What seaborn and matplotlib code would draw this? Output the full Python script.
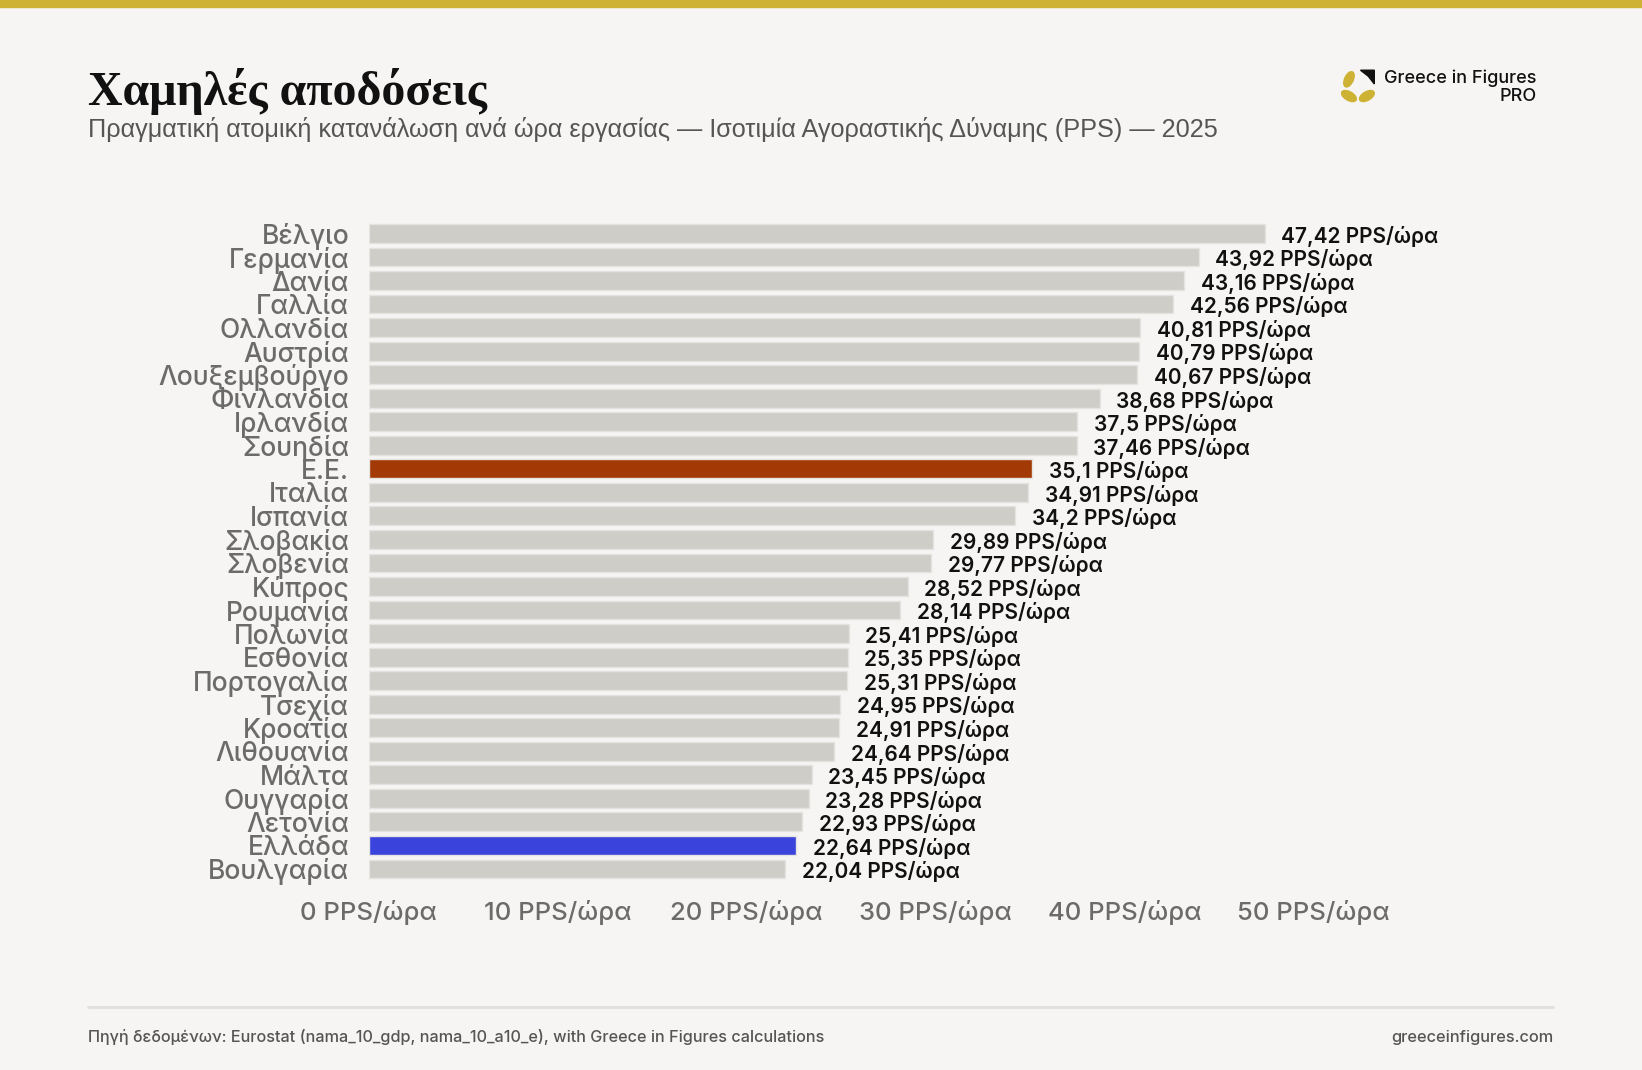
import numpy as np
import pandas as pd
import matplotlib
matplotlib.use("Agg")
import matplotlib.pyplot as plt
import seaborn as sns
from matplotlib.patches import Ellipse, Polygon

# Daten: Tatsächlicher Individualverbrauch pro Arbeitsstunde (PPS) 2025
countries = ["Βέλγιο", "Γερμανία", "Δανία", "Γαλλία", "Ολλανδία", "Αυστρία",
             "Λουξεμβούργο", "Φινλανδία", "Ιρλανδία", "Σουηδία", "Ε.Ε.", "Ιταλία",
             "Ισπανία", "Σλοβακία", "Σλοβενία", "Κύπρος", "Ρουμανία", "Πολωνία",
             "Εσθονία", "Πορτογαλία", "Τσεχία", "Κροατία", "Λιθουανία", "Μάλτα",
             "Ουγγαρία", "Λετονία", "Ελλάδα", "Βουλγαρία"]
values = [47.42, 43.92, 43.16, 42.56, 40.81, 40.79, 40.67, 38.68, 37.5, 37.46,
          35.1, 34.91, 34.2, 29.89, 29.77, 28.52, 28.14, 25.41, 25.35, 25.31,
          24.95, 24.91, 24.64, 23.45, 23.28, 22.93, 22.64, 22.04]
x_ticks = [0, 10, 20, 30, 40, 50]

BG = "#F6F5F3"
GREY = "#CFCDC8"
EU = "#A33A06"
GR = "#3A44DD"
GOLD = "#CDB234"

palette = {c: GREY for c in countries}
palette["Ε.Ε."] = EU
palette["Ελλάδα"] = GR

df = pd.DataFrame({"country": countries, "value": values})

sns.set_theme(style="white")
plt.rcParams["font.family"] = ["Inter", "DejaVu Sans"]

fig = plt.figure(figsize=(16.42, 10.70), dpi=100, facecolor=BG)
ax = fig.add_axes([0.2245, 0.1769, 0.633, 0.6159])
ax.set_facecolor(BG)

sns.barplot(data=df, x="value", y="country", hue="country", palette=palette,
            legend=False, width=0.8, saturation=1, edgecolor="#E4E3DF",
            linewidth=1, ax=ax)

def fmt(v):
    s = f"{v:.2f}".rstrip("0").rstrip(".")
    return s.replace(".", ",") + " PPS/ώρα"

for cont in ax.containers:
    lbls = ax.bar_label(cont, labels=[fmt(b.get_width()) for b in cont], padding=12,
                        fontsize=15, fontweight="semibold", color="#111111")
    for t in lbls:
        t.xyann = (t.xyann[0], t.xyann[1] - 2)

ax.set_xlim(0, 55)
ax.set_ylim(len(countries) - 0.5, -0.5)
ax.set_xticks(x_ticks)
ax.set_xticklabels([f"{t} PPS/ώρα" for t in x_ticks])
ax.set_xlabel("")
ax.set_ylabel("")
ax.tick_params(axis="x", length=0, pad=14, labelsize=18.5, labelcolor="#6B6B6B")
ax.tick_params(axis="y", length=0, pad=14, labelsize=19, labelcolor="#6B6B6B")
for lab in ax.get_xticklabels() + ax.get_yticklabels():
    lab.set_fontweight("medium")
for s in ax.spines.values():
    s.set_visible(False)
ax.grid(False)

# obere Goldleiste
fig.patches.append(plt.Rectangle((0, 0.993), 1, 0.007, transform=fig.transFigure,
                                 color=GOLD, zorder=5))

# Titel und Untertitel
fig.text(0.0536, 0.902, "Χαμηλές αποδόσεις", fontsize=34.5, fontweight="bold",
         family=["Liberation Serif", "DejaVu Serif"], color="#111111", va="baseline")
fig.text(0.0536, 0.872, "Πραγματική ατομική κατανάλωση ανά ώρα εργασίας — Ισοτιμία "
         "Αγοραστικής Δύναμης (PPS) — 2025", fontsize=18.2,
         family=["Liberation Sans", "DejaVu Sans"], color="#555555", va="baseline")

# Logo
lax = fig.add_axes([0.8165, 0.903, 0.021, 0.0322])
lax.set_xlim(-1, 1)
lax.set_ylim(-1, 1)
lax.axis("off")
lax.add_patch(Ellipse((-0.52, 0.42), 0.95, 0.5, angle=65, color=GOLD))
lax.add_patch(Ellipse((-0.52, -0.55), 0.95, 0.5, angle=-30, color=GOLD))
lax.add_patch(Ellipse((0.52, -0.55), 0.95, 0.5, angle=30, color=GOLD))
lax.add_patch(Polygon([[0.15, 0.95], [0.95, 0.95], [0.95, 0.15], [0.6, 0.6]],
                      closed=True, color="#111111"))
fig.text(0.936, 0.922, "Greece in Figures", fontsize=13, fontweight="medium",
         color="#111111", ha="right", va="baseline")
fig.text(0.936, 0.906, "PRO", fontsize=13, fontweight="medium", color="#111111",
         ha="right", va="baseline")

# Fußzeile
fig.add_artist(plt.Line2D([0.0536, 0.946], [0.0587, 0.0587], transform=fig.transFigure,
                          color="#E0DFDB", linewidth=2))
fig.text(0.0536, 0.0264, "Πηγή δεδομένων: Eurostat (nama_10_gdp, nama_10_a10_e), with "
         "Greece in Figures calculations", fontsize=11.7, fontweight="medium",
         color="#555555", va="baseline")
fig.text(0.9464, 0.0264, "greeceinfigures.com", fontsize=11.8, fontweight="medium",
         color="#555555", ha="right", va="baseline")

plt.savefig("out.png", dpi=100, facecolor=BG)
